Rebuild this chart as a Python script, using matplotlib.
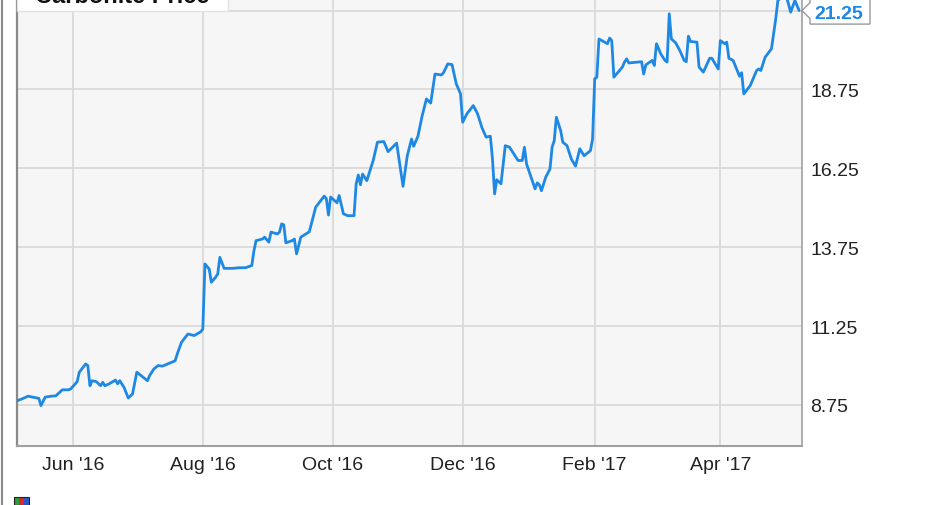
import matplotlib
matplotlib.use('Agg')
import matplotlib.pyplot as plt
import matplotlib.dates as mdates
import matplotlib.ticker as mticker
from matplotlib.patches import Polygon, Rectangle
from matplotlib.lines import Line2D
from matplotlib.transforms import IdentityTransform
import pandas as pd

title = "Carbonite Price"

dates = [
    "2016-05-06", "2016-05-08", "2016-05-11", "2016-05-13", "2016-05-16", "2016-05-17", "2016-05-19",
    "2016-05-22", "2016-05-24", "2016-05-27", "2016-05-30", "2016-05-31", "2016-06-03", "2016-06-04",
    "2016-06-07", "2016-06-08", "2016-06-09", "2016-06-10", "2016-06-12", "2016-06-14", "2016-06-15",
    "2016-06-16", "2016-06-18", "2016-06-21", "2016-06-22", "2016-06-23", "2016-06-25", "2016-06-27",
    "2016-06-29", "2016-07-01", "2016-07-04", "2016-07-06", "2016-07-07", "2016-07-09", "2016-07-11",
    "2016-07-13", "2016-07-19", "2016-07-20", "2016-07-22", "2016-07-25", "2016-07-28", "2016-07-31",
    "2016-08-01", "2016-08-02", "2016-08-04", "2016-08-05", "2016-08-07", "2016-08-08", "2016-08-09",
    "2016-08-11", "2016-08-15", "2016-08-18", "2016-08-21", "2016-08-24", "2016-08-25", "2016-08-26",
    "2016-08-29", "2016-08-30", "2016-09-01", "2016-09-02", "2016-09-05", "2016-09-06", "2016-09-07",
    "2016-09-08", "2016-09-09", "2016-09-12", "2016-09-13", "2016-09-14", "2016-09-16", "2016-09-20",
    "2016-09-23", "2016-09-27", "2016-09-28", "2016-09-29", "2016-09-30", "2016-10-03", "2016-10-04",
    "2016-10-06", "2016-10-08", "2016-10-11", "2016-10-12", "2016-10-13", "2016-10-14", "2016-10-15",
    "2016-10-17", "2016-10-20", "2016-10-22", "2016-10-25", "2016-10-27", "2016-10-31", "2016-11-03",
    "2016-11-05", "2016-11-07", "2016-11-08", "2016-11-10", "2016-11-12", "2016-11-14", "2016-11-16",
    "2016-11-18", "2016-11-21", "2016-11-22", "2016-11-24", "2016-11-26", "2016-11-28", "2016-11-30",
    "2016-12-01", "2016-12-03", "2016-12-06", "2016-12-08", "2016-12-10", "2016-12-12", "2016-12-14",
    "2016-12-15", "2016-12-16", "2016-12-17", "2016-12-19", "2016-12-21", "2016-12-23", "2016-12-27",
    "2016-12-29", "2016-12-30", "2016-12-31", "2017-01-04", "2017-01-05", "2017-01-06", "2017-01-07",
    "2017-01-09", "2017-01-11", "2017-01-12", "2017-01-13", "2017-01-14", "2017-01-16", "2017-01-17",
    "2017-01-19", "2017-01-21", "2017-01-23", "2017-01-25", "2017-01-27", "2017-01-30", "2017-01-31",
    "2017-02-01", "2017-02-02", "2017-02-03", "2017-02-07", "2017-02-08", "2017-02-09", "2017-02-10",
    "2017-02-14", "2017-02-15", "2017-02-16", "2017-02-17", "2017-02-23", "2017-02-24", "2017-02-25",
    "2017-02-28", "2017-03-01", "2017-03-02", "2017-03-04", "2017-03-06", "2017-03-07", "2017-03-08",
    "2017-03-09", "2017-03-11", "2017-03-13", "2017-03-15", "2017-03-16", "2017-03-17", "2017-03-18",
    "2017-03-21", "2017-03-22", "2017-03-24", "2017-03-27", "2017-03-28", "2017-03-31", "2017-04-01",
    "2017-04-03", "2017-04-04", "2017-04-05", "2017-04-07", "2017-04-10", "2017-04-11", "2017-04-12",
    "2017-04-15", "2017-04-18", "2017-04-19", "2017-04-20", "2017-04-22", "2017-04-25", "2017-04-27",
    "2017-04-28", "2017-04-30", "2017-05-02", "2017-05-03", "2017-05-04", "2017-05-06", "2017-05-08",
]

prices = [
    8.89, 8.94, 9.03, 9.00, 8.96, 8.73, 9.00,
    9.03, 9.04, 9.23, 9.23, 9.26, 9.49, 9.79,
    10.05, 10.00, 9.36, 9.52, 9.49, 9.36, 9.47,
    9.36, 9.42, 9.54, 9.42, 9.52, 9.31, 8.97,
    9.10, 9.79, 9.63, 9.52, 9.68, 9.89, 10.00,
    9.98, 10.15, 10.37, 10.74, 11.00, 10.95, 11.07,
    11.16, 13.22, 13.06, 12.64, 12.80, 12.90, 13.43,
    13.08, 13.08, 13.10, 13.10, 13.17, 13.64, 13.96,
    14.01, 14.07, 13.91, 14.23, 14.17, 14.23, 14.49,
    14.46, 13.89, 13.96, 14.01, 13.54, 14.07, 14.24,
    15.02, 15.37, 15.29, 14.77, 15.34, 15.16, 15.39,
    14.81, 14.75, 14.75, 15.76, 16.04, 15.73, 16.07,
    15.86, 16.50, 17.08, 17.10, 16.78, 17.05, 15.68,
    16.65, 17.18, 16.95, 17.27, 17.92, 18.45, 18.32,
    19.24, 19.21, 19.28, 19.56, 19.54, 18.93, 18.61,
    17.71, 17.98, 18.24, 17.98, 17.55, 17.24, 17.27,
    16.55, 15.44, 15.89, 15.76, 16.97, 16.92, 16.50,
    16.50, 16.92, 16.39, 15.60, 15.79, 15.73, 15.54,
    15.97, 16.23, 16.92, 17.13, 17.87, 17.45, 17.08,
    16.97, 16.55, 16.32, 16.87, 16.65, 16.81, 17.18,
    19.09, 19.14, 20.35, 20.20, 20.38, 20.30, 19.14,
    19.46, 19.62, 19.72, 19.59, 19.63, 19.24, 19.53,
    19.67, 19.51, 20.20, 19.88, 19.67, 19.62, 21.15,
    20.35, 20.23, 19.98, 19.67, 19.63, 20.44, 20.27,
    20.25, 19.46, 19.30, 19.74, 19.74, 19.40, 20.30,
    20.20, 20.25, 19.74, 19.67, 19.17, 19.28, 18.61,
    18.87, 19.35, 19.40, 19.35, 19.77, 20.04, 20.99,
    21.57, 21.69, 21.69, 21.46, 21.20, 21.57, 21.25,
]

y_ticks = [8.75, 11.25, 13.75, 16.25, 18.75, 21.25]
x_tick_months = [2, 4, 6, 8, 10, 12]
x_range = ("2016-05-05 18:00", "2017-05-09 08:00")
y_range = (7.45, 22.41)

LINE_COLOR = "#1e88e5"
W, H, DPI = 931, 506, 100

plt.rcParams['font.family'] = ['Liberation Sans', 'DejaVu Sans']
fig = plt.figure(figsize=(W / DPI, H / DPI), dpi=DPI)
fig.patch.set_facecolor('white')

left_px, right_px, bottom_px, top_px = 17, 802, 447, -25
ax = fig.add_axes([left_px / W, 1 - bottom_px / H,
                   (right_px - left_px) / W, (bottom_px - top_px) / H])
ax.set_facecolor('#f6f6f6')

x = pd.to_datetime(dates)
ax.plot(x, prices, color=LINE_COLOR, lw=2.0, solid_joinstyle='round',
        solid_capstyle='round', zorder=3)

ax.set_xlim(pd.Timestamp(x_range[0]), pd.Timestamp(x_range[1]))
ax.set_ylim(*y_range)

ax.xaxis.set_major_locator(mdates.MonthLocator(bymonth=x_tick_months))
ax.xaxis.set_major_formatter(mdates.DateFormatter("%b '%y"))
ax.yaxis.set_major_locator(mticker.FixedLocator(y_ticks))
ax.yaxis.set_major_formatter(mticker.FormatStrFormatter('%.2f'))
ax.yaxis.tick_right()
ax.tick_params(axis='y', length=0, pad=6, labelsize=14, labelcolor='#222222')
ax.tick_params(axis='x', length=0, pad=7, labelsize=14, labelcolor='#222222')
ax.grid(True, color='#dadada', lw=1.3, zorder=0)
ax.set_axisbelow(True)

ax.spines['top'].set_visible(False)
ax.spines['left'].set_color('#8a8a8a')
ax.spines['left'].set_linewidth(1.6)
ax.spines['right'].set_color('#a0a0a0')
ax.spines['right'].set_linewidth(1.2)
ax.spines['bottom'].set_color('#a0a0a0')
ax.spines['bottom'].set_linewidth(1.5)

ident = IdentityTransform()

# legend / title box at top-left (mostly cropped in the reference)
fig.add_artist(Rectangle((left_px, H - 11.5), 211, 20, transform=ident,
                         facecolor='white', edgecolor='#e2e2e2', lw=1, zorder=5))
fig.text(35 / W, (H - 3) / H, title, fontsize=17, fontweight='bold',
         color='#111111', va='baseline', ha='left', zorder=6)

# last-value callout
tx = ax.transAxes.transform((1, 0))[0]
ty = ax.transData.transform((mdates.date2num(x[-1]), prices[-1]))[1]
poly = Polygon([(tx, ty), (tx + 8, ty + 8), (tx + 8, ty + 16), (tx + 68, ty + 16),
                (tx + 68, ty - 13.5), (tx + 8, ty - 13.5), (tx + 8, ty - 8)],
               closed=True, transform=ident, facecolor='white',
               edgecolor='#9a9a9a', lw=1.0, zorder=7)
fig.add_artist(poly)
fig.text((tx + 37) / W, (ty - 2.5) / H, f"{prices[-1]:.2f}", fontsize=14,
         fontweight='bold', color=LINE_COLOR, ha='center', va='center', zorder=8)

# outer frame line on the left
fig.add_artist(Line2D([1.5, 1.5], [0, H], transform=ident, color='#8a8a8a', lw=1.5))

# small source logo at bottom-left
for i, c in enumerate(['#2e9d3a', '#d62b2b', '#2b57c8']):
    fig.add_artist(Rectangle((14 + i * 5, 0), 5, 8, transform=ident,
                             facecolor=c, edgecolor='none', zorder=5))
fig.add_artist(Rectangle((14, 0), 15, 8, transform=ident, facecolor='none',
                         edgecolor='#222222', lw=0.8, zorder=6))

fig.savefig('out.png', dpi=DPI, facecolor='white')
